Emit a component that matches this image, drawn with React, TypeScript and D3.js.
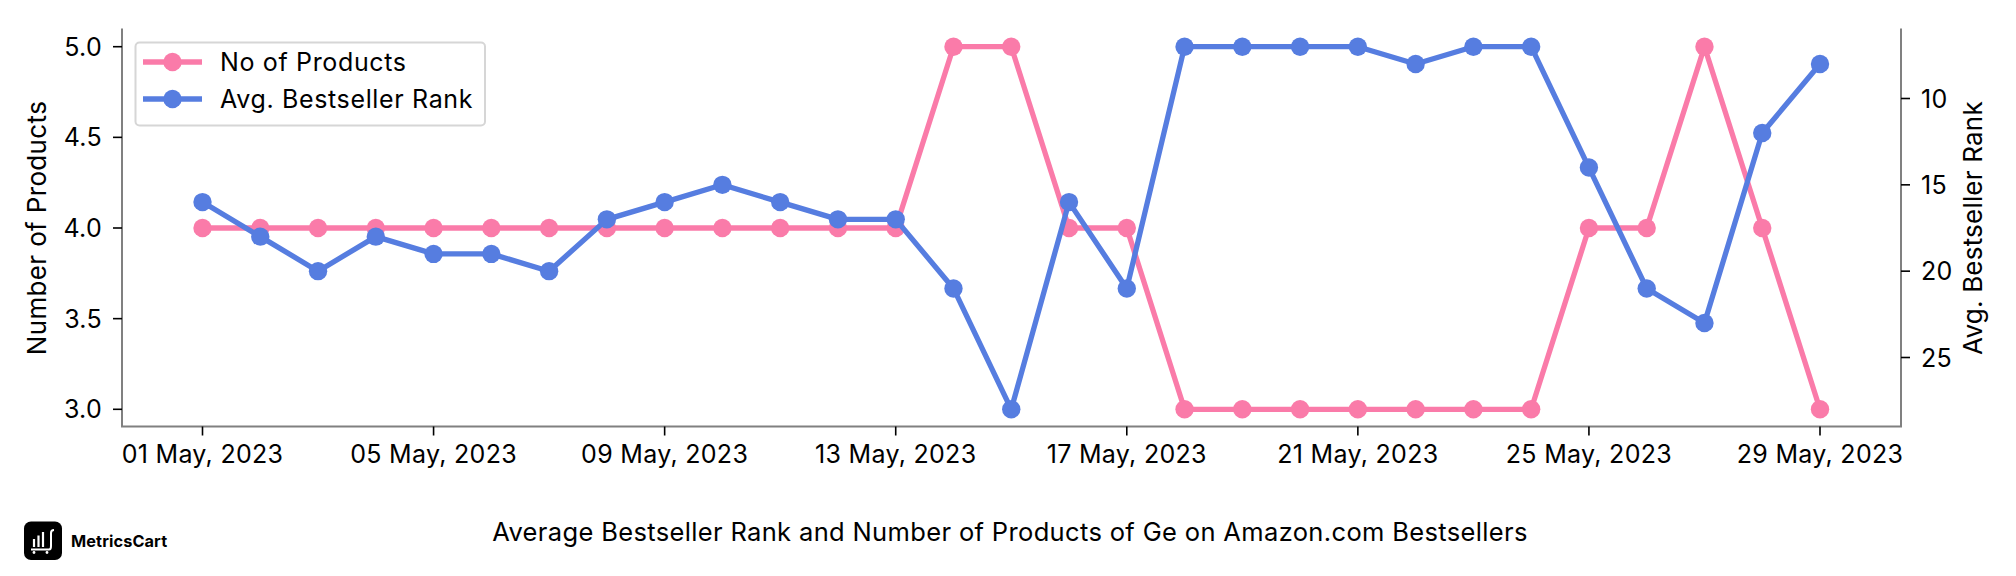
import React from "react";
import * as d3 from "d3";

const dates = d3.utcDays(new Date(Date.UTC(2023, 4, 1)), new Date(Date.UTC(2023, 4, 30)));
const noOfProducts = [4,4,4,4,4,4,4,4,4,4,4,4,4,5,5,4,4,3,3,3,3,3,3,3,4,4,5,4,3];
const avgRank = [16,18,20,18,19,19,20,17,16,15,16,17,17,21,28,16,21,7,7,7,7,8,7,7,14,21,23,12,8];
const leftTicks = [3, 3.5, 4, 4.5, 5];
const rightTicks = [10, 15, 20, 25];
const xTickDates = dates.filter((_, i) => i % 4 === 0);
const PINK = "#FA7BA9";
const BLUE = "#567DE0";
const FONT = "Inter, Roboto, sans-serif";
const TITLE = "Average Bestseller Rank and Number of Products of Ge on Amazon.com Bestsellers";

const L = 122, R = 1901, T = 28.5, B = 426.5;

export default function App() {
  const x = d3.scaleUtc().domain([dates[0], dates[28]]).range([202.5, 1820]);
  const yL = d3.scaleLinear().domain([5, 3]).range([46.7, 409.3]);
  const yR = d3.scaleLinear().domain([7, 28]).range([46.7, 409.3]);
  const fmt = d3.utcFormat("%d %b, %Y");
  const lineL = d3.line<number>().x((_, i) => x(dates[i])).y(d => yL(d));
  const lineR = d3.line<number>().x((_, i) => x(dates[i])).y(d => yR(d));
  const tickFs = 25;
  const lw = 5.3;
  const mr = 9.2;
  return (
    <svg width={2016} height={576} style={{ position: "absolute", left: 0, top: 0, background: "#fff" }} fontFamily={FONT}>
      <path d={lineL(noOfProducts)!} fill="none" stroke={PINK} strokeWidth={lw} strokeLinejoin="round" />
      {noOfProducts.map((d, i) => <circle key={i} cx={x(dates[i])} cy={yL(d)} r={mr} fill={PINK} />)}
      <path d={lineR(avgRank)!} fill="none" stroke={BLUE} strokeWidth={lw} strokeLinejoin="round" />
      {avgRank.map((d, i) => <circle key={i} cx={x(dates[i])} cy={yR(d)} r={mr} fill={BLUE} />)}

      <path d={`M${L},${T}V${B}H${R}V${T}`} fill="none" stroke="#808080" strokeWidth={2} />

      {leftTicks.map(t => (
        <g key={t}>
          <line x1={L - 9} x2={L} y1={yL(t)} y2={yL(t)} stroke="#000" strokeWidth={1.6} />
          <text x={L - 20} y={yL(t) + 9} textAnchor="end" fontSize={tickFs} letterSpacing={0.3}>{t.toFixed(1)}</text>
        </g>
      ))}
      {rightTicks.map(t => (
        <g key={t}>
          <line x1={R} x2={R + 9} y1={yR(t)} y2={yR(t)} stroke="#000" strokeWidth={1.6} />
          <text x={R + 20} y={yR(t) + 9} fontSize={tickFs} letterSpacing={0.3}>{t}</text>
        </g>
      ))}
      {xTickDates.map(d => (
        <g key={+d}>
          <line x1={x(d)} x2={x(d)} y1={B} y2={B + 9} stroke="#000" strokeWidth={1.6} />
          <text x={x(d)} y={463} textAnchor="middle" fontSize={tickFs} letterSpacing={0.3}>{fmt(d)}</text>
        </g>
      ))}

      <text transform="translate(46,228) rotate(-90)" textAnchor="middle" fontSize={26} letterSpacing={0.35}>Number of Products</text>
      <text transform="translate(1982,228) rotate(-90)" textAnchor="middle" fontSize={26} letterSpacing={0.2}>Avg. Bestseller Rank</text>

      <rect x={135.5} y={42.5} width={349.5} height={83} rx={4} fill="#fff" stroke="#d6d6d6" strokeWidth={2} />
      <line x1={143} x2={202} y1={62} y2={62} stroke={PINK} strokeWidth={lw} />
      <circle cx={172.5} cy={62} r={mr} fill={PINK} />
      <text x={220} y={71} fontSize={tickFs} letterSpacing={0.65}>No of Products</text>
      <line x1={143} x2={202} y1={99} y2={99} stroke={BLUE} strokeWidth={lw} />
      <circle cx={172.5} cy={99} r={mr} fill={BLUE} />
      <text x={220} y={108} fontSize={tickFs} letterSpacing={0.65}>Avg. Bestseller Rank</text>

      <text x={1010} y={541} textAnchor="middle" fontSize={25.5} letterSpacing={0.35}>{TITLE}</text>

      <rect x={24} y={521.5} width={38} height={38.5} rx={7} fill="#000" />
      <path d="M34,547V539M38.5,547V535.5M43,547V532" stroke="#fff" strokeWidth={2.2} fill="none" />
      <path d="M31,549.5H49Q51,549.5 51,546V533Q51,530 54,530" stroke="#fff" strokeWidth={2} fill="none" />
      <circle cx={34} cy={552.5} r={1.4} fill="#fff" />
      <circle cx={47} cy={552.5} r={1.4} fill="#fff" />
      <text x={71} y={547} fontSize={16.3} fontWeight={700} letterSpacing={0.1}>MetricsCart</text>
    </svg>
  );
}
